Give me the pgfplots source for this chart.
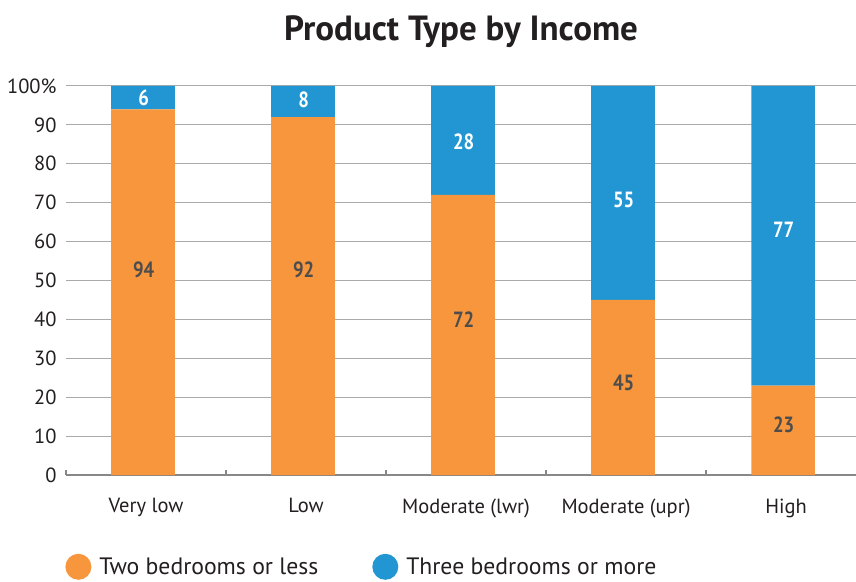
\documentclass[border=0pt]{standalone}
\usepackage{fontspec}
\setmainfont{PT Sans}
\newfontfamily\condfont{PT Sans}[FakeStretch=0.85]
\usepackage{pgfplots}
\pgfplotsset{compat=1.18}
\definecolor{orng}{RGB}{247,150,61}
\definecolor{blu}{RGB}{33,150,210}
\definecolor{txt}{RGB}{35,31,32}
\definecolor{lbl}{RGB}{77,77,77}
\definecolor{gridc}{RGB}{170,170,170}
\begin{document}
\begin{tikzpicture}[x=1pt,y=1pt]
\path[use as bounding box] (0,0) rectangle (856,581);
\begin{axis}[
  at={(66pt,106pt)}, anchor=south west,
  scale only axis, width=790pt, height=389pt,
  xmin=-0.5, xmax=4.4375, ymin=0, ymax=100,
  ybar stacked, bar width=0.397, bar shift=-3pt,
  axis lines*=left,
  axis line style={-},
  x axis line style={draw=gridc!80!black, line width=1.2pt},
  y axis line style={draw=none},
  xtick={0,1,2,3,4},
  xticklabels={Very low, Low, Moderate (lwr), Moderate (upr), High},
  minor xtick={-0.5,0.5,1.5,2.5,3.5},
  major x tick style={draw=none},
  minor x tick style={draw=gridc!80!black, line width=1.2pt},
  minor tick length=5pt,
  tick align=inside,
  ytick={0,10,...,100},
  yticklabels={0,10,20,30,40,50,60,70,80,90,100\%},
  major y tick style={draw=none},
  ymajorgrids,
  grid style={draw=gridc, line width=1pt},
  tick label style={font=\fontsize{20.5}{24}\selectfont, text=txt},
  xticklabel style={yshift=-20pt},
  yticklabel style={xshift=-6pt},
  title={Product Type by Income},
  title style={font=\fontsize{35}{40}\selectfont\bfseries, text=txt, at={(0.5,1)}, anchor=center, yshift=48pt},
  legend columns=2,
  legend style={at={(-0.001,-0.236)}, anchor=west, draw=none, fill=none, inner sep=0pt,
    font=\fontsize{23.7}{28}\selectfont, text=txt,
    /tikz/every even column/.append style={column sep=52pt}},
  legend image code/.code={\fill[#1, draw=none] (13pt,0pt) circle (13pt); \path (32pt,0pt);},
  legend cell align=left,
]
\addplot[fill=orng, draw=none] coordinates {(0,94) (1,92) (2,72) (3,45) (4,23)};
\addlegendentry{Two bedrooms or less}
\addplot[fill=blu, draw=none] coordinates {(0,6) (1,8) (2,28) (3,55) (4,77)};
\addlegendentry{Three bedrooms or more}
\end{axis}
\begin{axis}[
  at={(66pt,106pt)}, anchor=south west,
  scale only axis, width=790pt, height=389pt,
  xmin=-0.5, xmax=4.4375, ymin=0, ymax=100,
  hide axis,
]
\addplot[only marks, mark=*, mark size=0pt, mark options={draw=none, fill=none},
  nodes near coords, point meta=explicit symbolic,
  every node near coord/.append style={anchor=center, font=\fontsize{22}{26}\selectfont\condfont\bfseries, text=lbl}]
  coordinates {(-0.015,52.7)[94] (0.985,52.7)[92] (1.985,40)[72] (2.985,23.6)[45] (3.985,13)[23]};
\addplot[only marks, mark=*, mark size=0pt, mark options={draw=none, fill=none},
  nodes near coords, point meta=explicit symbolic,
  every node near coord/.append style={anchor=center, font=\fontsize{22}{26}\selectfont\condfont\bfseries, text=white}]
  coordinates {(-0.015,97)[6] (0.985,96.4)[8] (1.985,85.6)[28] (2.985,70.7)[55] (3.985,63)[77]};
\end{axis}
\end{tikzpicture}
\end{document}
